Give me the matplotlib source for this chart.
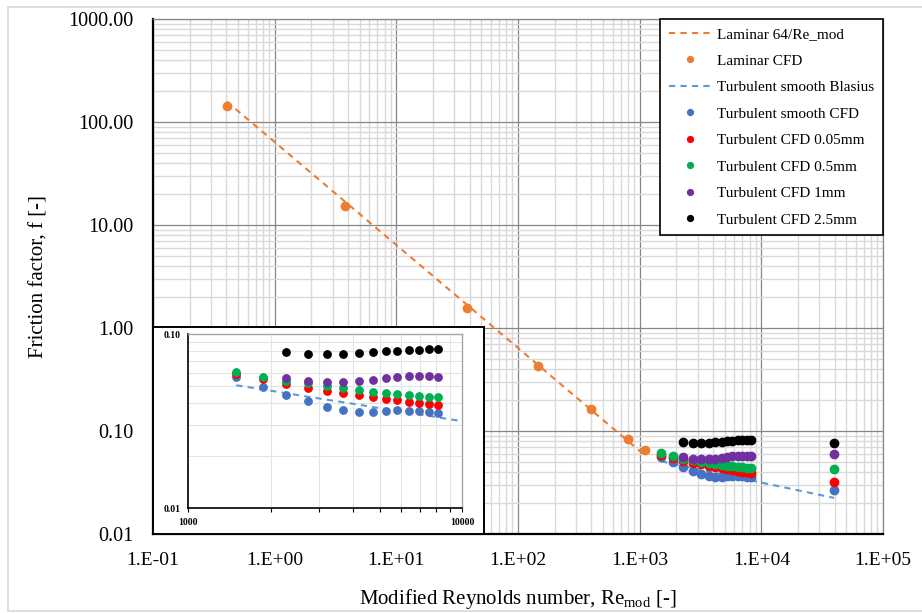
import matplotlib
matplotlib.use("Agg")
import matplotlib.pyplot as plt
import numpy as np
from matplotlib.ticker import FuncFormatter, LogLocator, FixedLocator, NullFormatter
from matplotlib.lines import Line2D

plt.rcParams['font.family'] = ['Liberation Serif', 'DejaVu Serif']
plt.rcParams['mathtext.fontset'] = 'custom'
plt.rcParams['mathtext.rm'] = 'Liberation Serif'

# laminar data
re_lam = [0.404, 3.78, 37.9, 147, 395, 795, 1109]
f_lam_line = [158, 16.9, 1.69, 0.435, 0.162, 0.0805, 0.0577]
f_lam_cfd = [143, 15.3, 1.57, 0.43, 0.1625, 0.0835, 0.0659]

# turbulent data
re_turb = [1500, 1870, 2270, 2730, 3200, 3680, 4190, 4710, 5270, 5790, 6410, 6970, 7580, 8180, 39600]
f_blasius = [0.0508, 0.0481, 0.0458, 0.0437, 0.0420, 0.0406, 0.0393, 0.0381, 0.0371,
             0.0362, 0.0353, 0.0346, 0.0339, 0.0332, 0.0224]
f_smooth = [0.0564, 0.0497, 0.0449, 0.0411, 0.0383, 0.0365, 0.0358, 0.0358, 0.0363,
            0.0365, 0.0362, 0.0362, 0.0355, 0.0354, 0.0265]
f_005 = [0.0590, 0.0549, 0.0517, 0.0492, 0.0473, 0.0459, 0.0445, 0.0435, 0.0426,
         0.0417, 0.0409, 0.0402, 0.0397, 0.0390, 0.0320]
f_05 = [0.0608, 0.0567, 0.0540, 0.0521, 0.0503, 0.0488, 0.0480, 0.0467, 0.0460,
        0.0453, 0.0447, 0.0443, 0.0437, 0.0435, 0.0428]
# 1mm and 2.5mm start at the third Re value
f_1 = [0.0560, 0.0540, 0.0533, 0.0533, 0.0538, 0.0547, 0.0560, 0.0569, 0.0572,
       0.0574, 0.0574, 0.0569, 0.0594]
f_25 = [0.0788, 0.0765, 0.0765, 0.0771, 0.0778, 0.0785, 0.0795, 0.0799, 0.0813,
        0.0813, 0.0816, 0.0820, 0.0760]

C_LAM = '#ED7D31'
C_BLA = '#5B9BD5'
C_SM = '#4472C4'
C_005 = '#FF0000'
C_05 = '#00B050'
C_1 = '#7030A0'
C_25 = '#000000'

def draw_series(ax, ms, with_lam=True):
    if with_lam:
        ax.plot(re_lam, f_lam_line, ls=(0, (3, 2.5)), color=C_LAM, lw=1.5, label='Laminar 64/Re_mod')
        ax.plot(re_lam, f_lam_cfd, 'o', color=C_LAM, ms=ms, label='Laminar CFD')
    ax.plot(re_turb, f_blasius, ls=(0, (3, 2.5)), color=C_BLA, lw=1.5, label='Turbulent smooth Blasius')
    ax.plot(re_turb, f_smooth, 'o', color=C_SM, ms=ms, label='Turbulent smooth CFD')
    ax.plot(re_turb, f_005, 'o', color=C_005, ms=ms, label='Turbulent CFD 0.05mm')
    ax.plot(re_turb, f_05, 'o', color=C_05, ms=ms, label='Turbulent CFD 0.5mm')
    ax.plot(re_turb[2:], f_1, 'o', color=C_1, ms=ms, label='Turbulent CFD 1mm')
    ax.plot(re_turb[2:], f_25, 'o', color=C_25, ms=ms, label='Turbulent CFD 2.5mm')

fig = plt.figure(figsize=(9.22, 6.13), dpi=100)

# thin light frame around the picture
for xs, ys in [([8/922, 8/922], [2/613, 606/613]), ([8/922, 1], [606/613, 606/613]),
               ([8/922, 1], [2/613, 2/613])]:
    fig.add_artist(Line2D(xs, ys, color='#d9d9d9', lw=1.2))

ax = fig.add_axes([153/922, 1 - 534/613, 730/922, 515/613])
ax.set_xscale('log')
ax.set_yscale('log')
ax.set_xlim(0.1, 1e5)
ax.set_ylim(0.01, 1000)
draw_series(ax, 6)

ax.xaxis.set_major_locator(LogLocator(base=10, numticks=20))
ax.yaxis.set_major_locator(LogLocator(base=10, numticks=20))
ax.xaxis.set_minor_locator(LogLocator(base=10, subs=np.arange(2, 10), numticks=20))
ax.yaxis.set_minor_locator(LogLocator(base=10, subs=np.arange(2, 10), numticks=20))
ax.xaxis.set_minor_formatter(NullFormatter())
ax.yaxis.set_minor_formatter(NullFormatter())
ax.xaxis.set_major_formatter(FuncFormatter(lambda v, p: "1.E%+03d" % int(round(np.log10(v)))))
ax.yaxis.set_major_formatter(FuncFormatter(lambda v, p: "%.2f" % v))
ax.tick_params(which='both', length=0)
ax.tick_params(axis='x', which='major', labelsize=14, pad=13)
ax.tick_params(axis='y', which='major', labelsize=14.5, pad=14)
ax.grid(which='major', color='#868686', lw=0.9)
ax.grid(which='minor', color='#d9d9d9', lw=1.0)
ax.set_axisbelow(True)
for s in ['left', 'bottom']:
    ax.spines[s].set_linewidth(1.6)
    ax.spines[s].set_color('black')
for s in ['top', 'right']:
    ax.spines[s].set_linewidth(0.9)
    ax.spines[s].set_color('#868686')

ax.set_xlabel('Modified Reynolds number, Re$_{\\mathrm{mod}}$ [-]', fontsize=15, labelpad=13)
ax.set_ylabel('Friction factor, f [-]', fontsize=15, labelpad=14)

leg = ax.legend(loc='upper right', bbox_to_anchor=(1, 1), borderaxespad=0, fontsize=11,
                frameon=True, fancybox=False, framealpha=1, edgecolor='black',
                markerscale=0.7, handlelength=2.8, handletextpad=0.4, labelspacing=0.84,
                borderpad=0.55)
leg.get_frame().set_linewidth(1.2)

# white box holding the inset
box = fig.add_axes([153/922, 1 - 534/613, 331/922, 207/613])
box.set_xticks([])
box.set_yticks([])
for s in box.spines.values():
    s.set_linewidth(1.4)
    s.set_color('black')

ins = fig.add_axes([188/922, 1 - 508.3/613, 274.3/922, 174.3/613])
ins.set_xscale('log')
ins.set_yscale('log')
draw_series(ins, 5.3, with_lam=False)
ins.set_xlim(1000, 10000)
ins.set_ylim(0.01, 0.1)
ins.xaxis.set_major_locator(FixedLocator([1000, 10000]))
ins.yaxis.set_major_locator(FixedLocator([0.01, 0.1]))
ins.xaxis.set_minor_locator(LogLocator(base=10, subs=np.arange(2, 10), numticks=20))
ins.yaxis.set_minor_locator(LogLocator(base=10, subs=np.arange(2, 10), numticks=20))
ins.xaxis.set_minor_formatter(NullFormatter())
ins.yaxis.set_minor_formatter(NullFormatter())
ins.xaxis.set_major_formatter(FuncFormatter(lambda v, p: "%d" % v))
ins.yaxis.set_major_formatter(FuncFormatter(lambda v, p: "%.2f" % v))
ins.tick_params(axis='x', which='both', length=3, width=0.8, labelsize=7, pad=4)
ins.tick_params(axis='y', which='both', length=0, labelsize=7, pad=5)
for lab in ins.get_xticklabels() + ins.get_yticklabels():
    lab.set_fontweight('bold')
ins.grid(which='minor', color='#e3e3e3', lw=0.8)
ins.set_axisbelow(True)
for s in ['left', 'bottom']:
    ins.spines[s].set_linewidth(1.2)
    ins.spines[s].set_color('black')
for s in ['top', 'right']:
    ins.spines[s].set_linewidth(1.0)
    ins.spines[s].set_color('#a6a6a6')

fig.savefig('out.png', dpi=100)
